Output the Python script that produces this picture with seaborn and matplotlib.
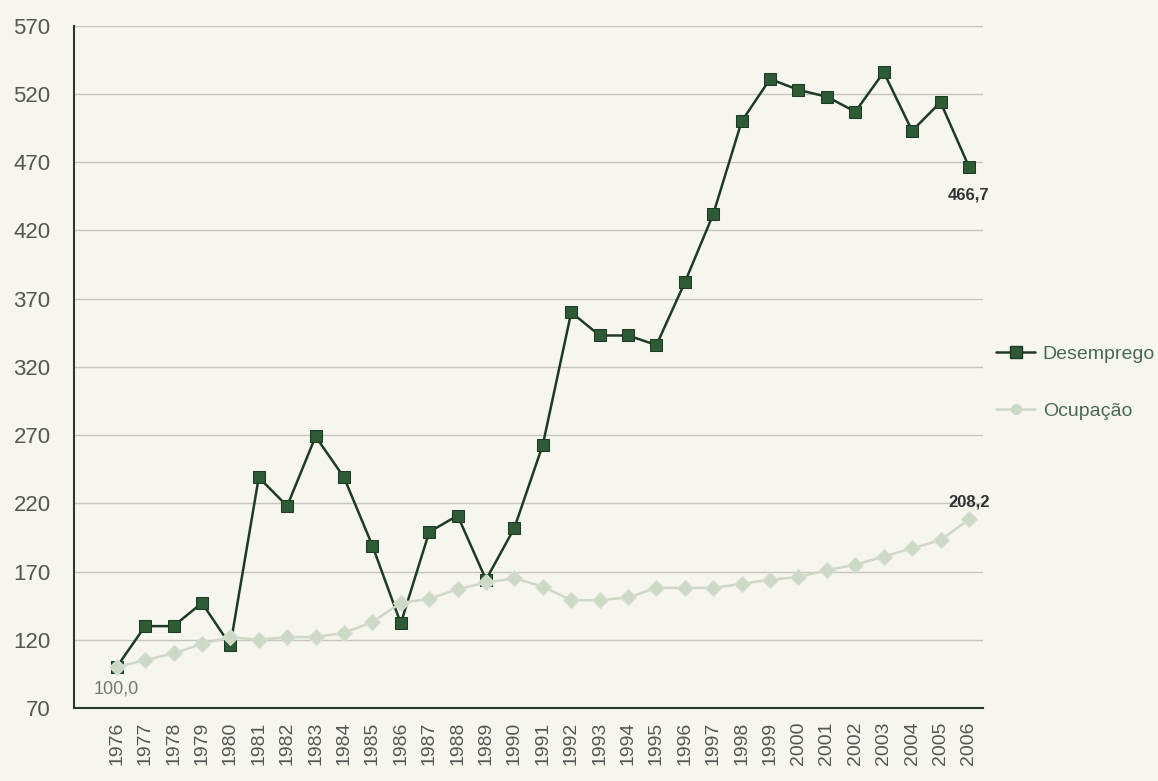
import pandas as pd
import numpy as np
import matplotlib
matplotlib.use("Agg")
import matplotlib.pyplot as plt
import seaborn as sns
from matplotlib.lines import Line2D

sns.set_style("white")
plt.rcParams['font.family'] = ['Liberation Sans', 'DejaVu Sans']

anos = list(range(1976, 2007))
desemprego = [100.0, 130, 130, 147, 116, 239, 218, 269, 239, 189,
              132, 199, 211, 164, 202, 263, 360, 343, 343, 336,
              382, 432, 500, 531, 523, 518, 507, 536, 493, 514, 466.7]
ocupacao = [100.0, 105, 110, 117, 122, 120, 122, 122, 125, 133,
            147, 150, 157, 162, 165, 159, 149, 149, 151, 158,
            158, 158, 161, 164, 166, 171, 175, 181, 187, 193, 208.2]
yticks = list(range(70, 571, 50))

df = pd.DataFrame({"ano": anos * 2,
                   "valor": desemprego + ocupacao,
                   "serie": ["Desemprego"] * len(anos) + ["Ocupação"] * len(anos)})

bg = "#f6f6ef"
fig = plt.figure(figsize=(11.58, 7.81), dpi=100, facecolor=bg)
ax = fig.add_axes([0.064, 0.0935, 0.785, 0.8735], facecolor=bg)

for y in yticks[1:]:
    ax.axhline(y, color="#c4c4bb", lw=1.0, zorder=0)

cores = {"Desemprego": "#2e5b36", "Ocupação": "#cdd8c6"}
sns.lineplot(data=df, x="ano", y="valor", hue="serie", style="serie",
             palette=cores, markers={"Desemprego": "s", "Ocupação": "D"},
             dashes=False, markersize=8, lw=1.8, ax=ax, legend=False)
ax.lines[-2].set_color("#1f3a24")
ax.lines[-2].set_markerfacecolor("#2e5b36")
ax.lines[-2].set_markeredgecolor("#1f3a24")
ax.lines[-1].set_markeredgecolor("#d8e0d2")

ax.set_xlim(1974.5, 2006.5)
ax.set_ylim(70, 570)
ax.set_yticks(yticks)
ax.set_yticklabels([str(v) for v in yticks], fontsize=16, color="#555555")
ax.set_xticks(anos)
ax.set_xticklabels([str(a) for a in anos], rotation=90, fontsize=14, color="#555555")
ax.set_xticks(np.arange(1974.5, 2007, 1), minor=True)
ax.tick_params(axis="x", which="major", length=0, pad=10)
ax.tick_params(axis="x", which="minor", length=9, direction="out", color="#333333", width=1.2)
ax.tick_params(axis="y", length=9, direction="out", color="#333333", width=1.2, pad=8)
ax.set_xlabel("")
ax.set_ylabel("")
for s in ["top", "right"]:
    ax.spines[s].set_visible(False)
for s in ["left", "bottom"]:
    ax.spines[s].set_color("#2a3a2c")
    ax.spines[s].set_linewidth(1.5)

ax.text(1976, 78, "100,0", fontsize=13, color="#777777", ha="center", va="bottom")
ax.text(2006, 446, "466,7", fontsize=12, color="#333333", fontweight="bold", ha="center", va="center")
ax.text(2006, 221, "208,2", fontsize=12, color="#333333", fontweight="bold", ha="center", va="center")

handles = [Line2D([], [], color="#1f3a24", marker="s", markerfacecolor="#2e5b36", markersize=8, lw=1.8),
           Line2D([], [], color="#cdd8c6", marker="o", markerfacecolor="#cdd8c6", markersize=7, lw=1.8)]
leg = ax.legend(handles, ["Desemprego", "Ocupação"], loc="center left",
                bbox_to_anchor=(0.995, 0.477), frameon=False, fontsize=14,
                handlelength=2.0, handletextpad=0.4, labelspacing=2.0)
for t in leg.get_texts():
    t.set_color("#4a6a50")

fig.savefig("out.png", dpi=100, facecolor=bg)
